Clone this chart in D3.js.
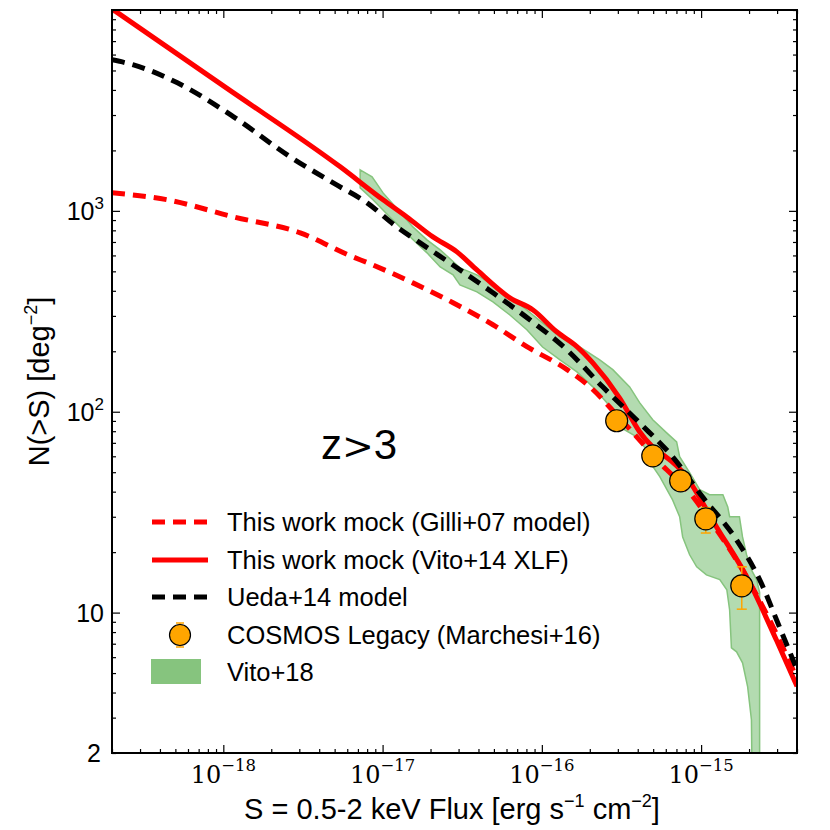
<!DOCTYPE html>
<html><head><meta charset="utf-8">
<script src="https://cdn.jsdelivr.net/npm/d3@7"></script>
<style>body{margin:0;background:#fff}</style>
</head><body>
<svg id="chart" width="830" height="830"></svg>
<script>
// ---------------- data ----------------
const gilliFlux = [2e-19, 4.46e-19, 1.16e-18, 3.04e-18, 6.08e-18, 8.7e-18, 1.55e-17, 2.77e-17, 4.93e-17, 8.05e-17, 1.44e-16, 2.09e-16, 2.95e-16, 3.94e-16, 5.5e-16, 8.5e-16, 1.13e-15, 1.74e-15, 2.69e-15, 4e-15];
const gilliN    = [1230, 1135, 933, 777, 604, 538, 438, 349, 271, 211, 162, 129, 96.5, 75, 55.7, 39.5, 29.0, 17.3, 9.2, 4.7];

const vitoXlfFlux = [2e-19, 1.044e-18, 5.42e-18, 1.007e-17, 1.42e-17, 2.07e-17, 2.93e-17, 3.91e-17, 6.3e-17, 8.8e-17, 1.24e-16, 1.66e-16, 2.09e-16, 3.08e-16, 4.11e-16, 8.1e-16, 1.25e-15, 1.93e-15, 2.97e-15, 4e-15];
const vitoXlfN    = [10130, 4093, 1656, 1135, 933, 742, 625, 508, 369, 321, 250, 211, 175, 117, 79.5, 47.4, 26.7, 15.1, 7.3, 4.3];

const uedaFlux = [2e-19, 2.73e-19, 5.15e-19, 1.16e-18, 2.63e-18, 4.9e-18, 8.0e-18, 1.23e-17, 1.72e-17, 2.93e-17, 4.93e-17, 8.4e-17, 1.44e-16, 2.41e-16, 4.11e-16, 6.62e-16, 1.02e-15, 1.67e-15, 2.33e-15, 3.1e-15, 4e-15];
const uedaN    = [5650, 5330, 4340, 2940, 1857, 1377, 1096, 832, 693, 521, 391, 287, 203, 133, 88, 59.7, 37.7, 23.0, 14.6, 8.5, 5.2];

const cosmosFlux = [2.95e-16, 4.97e-16, 7.44e-16, 1.07e-15, 1.80e-15];
const cosmosN    = [90.2, 60.3, 45.3, 29.3, 13.6];
const cosmosLo   = [84, 56, 42, 24.9, 10.4];
const cosmosHi   = [96, 65, 49, 33.3, 16.9];

const vitoUpS = [7.23e-18, 8.59e-18, 1.007e-17, 1.25e-17, 1.55e-17, 1.90e-17, 2.30e-17, 3.06e-17, 3.91e-17, 4.93e-17, 6.30e-17, 8.05e-17, 1.01e-16, 1.30e-16, 1.73e-16, 2.31e-16, 2.79e-16, 3.56e-16, 4.11e-16, 4.97e-16, 6.08e-16, 7.02e-16, 7.33e-16, 8.47e-16, 9.80e-16, 1.13e-15, 1.37e-15, 1.47e-15, 1.51e-15, 1.74e-15, 1.82e-15, 1.93e-15, 2.07e-15, 2.23e-15, 2.33e-15, 2.33e-15];
const vitoUpN = [1600, 1476, 1229, 1012, 832, 717, 640, 520, 480, 428, 373, 321, 277, 236, 210, 181, 162, 133, 111, 91.2, 78.5, 70.8, 59.7, 49.7, 40.9, 38.6, 38.6, 33.6, 30.0, 30.0, 23.8, 19.4, 16.3, 14.6, 12.6, 1];
const vitoLoS = [7.23e-18, 8.7e-18, 1.11e-17, 1.49e-17, 1.90e-17, 2.30e-17, 2.77e-17, 3.06e-17, 3.91e-17, 4.93e-17, 6.30e-17, 8.05e-17, 1.01e-16, 1.30e-16, 1.66e-16, 2.09e-16, 2.56e-16, 3.08e-16, 3.94e-16, 4.55e-16, 4.9e-16, 5.5e-16, 6.62e-16, 7.33e-16, 7.66e-16, 8.47e-16, 9.38e-16, 1.08e-15, 1.31e-15, 1.45e-15, 1.51e-15, 1.55e-15, 1.67e-15, 1.82e-15, 1.96e-15, 2.07e-15, 2.10e-15];
const vitoLoN = [1301, 1135, 933, 742, 618, 526, 480, 428, 395, 352, 303, 256, 210, 181, 158, 133, 111, 84.1, 75, 64.6, 54.4, 47.5, 36.4, 30.0, 23.8, 19.4, 16.9, 15.4, 14.6, 13.0, 10.3, 6.68, 6.38, 5.62, 4.27, 2.93, 1];

const xMajorTicks = [1e-18, 1e-17, 1e-16, 1e-15];
const xTickExp = ["−18", "−17", "−16", "−15"];
const yMajorTicks = [10, 100, 1000];
const yTickLabels = [["10", ""], ["10", "2"], ["10", "3"]];
const yExtraTick = 2;

const legendLabels = ["This work mock (Gilli+07 model)", "This work mock (Vito+14 XLF)", "Ueda+14 model", "COSMOS Legacy (Marchesi+16)", "Vito+18"];

// ---------------- chart ----------------
const svg = d3.select("#chart");
const L = 112, R = 797, T = 10, B = 753;
const x = d3.scaleLog().domain([2e-19, 4e-15]).range([L, R]);
const y = d3.scaleLog().domain([2, 1e4]).range([B, T]);
const RED = "#ff0000", ORANGE = "#ffa500";
const SANS = "'Liberation Sans', Arial, Helvetica, sans-serif";
const SERIF = "'DejaVu Serif', 'Liberation Serif', serif";

svg.append("defs").append("clipPath").attr("id", "clip")
  .append("rect").attr("x", L).attr("y", T).attr("width", R - L).attr("height", B - T);
const plot = svg.append("g").attr("clip-path", "url(#clip)");

// Vito+18 band
const bandPts = vitoUpS.map((s, i) => [x(s), y(vitoUpN[i])])
  .concat(vitoLoS.map((s, i) => [x(s), y(vitoLoN[i])]).reverse());
plot.append("path")
  .attr("d", d3.line().curve(d3.curveLinearClosed)(bandPts))
  .attr("fill", "#b3dbb0").attr("stroke", "#86c47e").attr("stroke-width", 1.5);

const line = d3.line().x(d => x(d[0])).y(d => y(d[1])).curve(d3.curveMonotoneX);
function drawLine(fx, fy, color, dash) {
  const p = plot.append("path")
    .attr("d", line(fx.map((f, i) => [f, fy[i]])))
    .attr("fill", "none").attr("stroke", color).attr("stroke-width", 5);
  if (dash) p.attr("stroke-dasharray", dash);
}
drawLine(gilliFlux, gilliN, RED, "13,8");
drawLine(vitoXlfFlux, vitoXlfN, RED, null);
drawLine(uedaFlux, uedaN, "#000", "13,8");

// COSMOS points
const pts = plot.append("g");
cosmosFlux.forEach((f, i) => {
  const cx = x(f);
  pts.append("line").attr("x1", cx).attr("x2", cx).attr("y1", y(cosmosLo[i])).attr("y2", y(cosmosHi[i]))
    .attr("stroke", ORANGE).attr("stroke-width", 1.5);
  [cosmosLo[i], cosmosHi[i]].forEach(v => {
    pts.append("line").attr("x1", cx - 5).attr("x2", cx + 5).attr("y1", y(v)).attr("y2", y(v))
      .attr("stroke", ORANGE).attr("stroke-width", 1.5);
  });
});
pts.selectAll("circle").data(cosmosFlux).join("circle")
  .attr("cx", d => x(d)).attr("cy", (d, i) => y(cosmosN[i])).attr("r", 11)
  .attr("fill", ORANGE).attr("stroke", "#000").attr("stroke-width", 1.2);

// ---------------- axes ----------------
const xMinor = x.ticks().filter(v => !xMajorTicks.some(m => Math.abs(m - v) / m < 1e-6));
const yMinor = y.ticks().filter(v => !yMajorTicks.some(m => Math.abs(m - v) / m < 1e-6));
function axisG(axis, tx, ty) {
  const g = svg.append("g").attr("transform", `translate(${tx},${ty})`).call(axis);
  g.select(".domain").remove();
  g.selectAll(".tick line").attr("stroke", "#000").attr("stroke-width", 1.2);
  g.selectAll(".tick text").remove();
  return g;
}
axisG(d3.axisBottom(x).tickValues(xMajorTicks).tickSize(-8).tickFormat(""), 0, B);
axisG(d3.axisBottom(x).tickValues(xMinor).tickSize(-4).tickFormat(""), 0, B);
axisG(d3.axisTop(x).tickValues(xMajorTicks).tickSize(-8).tickFormat(""), 0, T);
axisG(d3.axisTop(x).tickValues(xMinor).tickSize(-4).tickFormat(""), 0, T);
axisG(d3.axisLeft(y).tickValues(yMajorTicks).tickSize(-8).tickFormat(""), L, 0);
axisG(d3.axisLeft(y).tickValues(yMinor).tickSize(-4).tickFormat(""), L, 0);
axisG(d3.axisRight(y).tickValues(yMajorTicks).tickSize(-8).tickFormat(""), R, 0);
axisG(d3.axisRight(y).tickValues(yMinor).tickSize(-4).tickFormat(""), R, 0);

svg.append("rect").attr("x", L).attr("y", T).attr("width", R - L).attr("height", B - T)
  .attr("fill", "none").attr("stroke", "#000").attr("stroke-width", 2);

// x tick labels
xMajorTicks.forEach((v, i) => {
  const t = svg.append("text").attr("x", x(v)).attr("y", 783).attr("text-anchor", "middle")
    .attr("font-family", SERIF).attr("font-size", 24);
  t.append("tspan").text("10");
  t.append("tspan").attr("dy", -12).attr("font-size", 16.5).text(xTickExp[i]);
});
// y tick labels
yMajorTicks.forEach((v, i) => {
  const t = svg.append("text").attr("x", 104).attr("y", y(v) + 9).attr("text-anchor", "end")
    .attr("font-family", SANS).attr("font-size", 25);
  t.append("tspan").text(yTickLabels[i][0]);
  if (yTickLabels[i][1]) t.append("tspan").attr("dy", -11).attr("font-size", 17).text(yTickLabels[i][1]);
});
svg.append("text").attr("x", 101).attr("y", y(yExtraTick) + 9).attr("text-anchor", "end")
  .attr("font-family", SANS).attr("font-size", 25).text(String(yExtraTick));

// axis titles
const xl = svg.append("text").attr("x", 452).attr("y", 819).attr("text-anchor", "middle")
  .attr("font-family", SANS).attr("font-size", 29);
xl.append("tspan").text("S = 0.5-2 keV Flux [erg s");
xl.append("tspan").attr("dy", -12).attr("font-size", 18).text("−1");
xl.append("tspan").attr("dy", 12).text(" cm");
xl.append("tspan").attr("dy", -12).attr("font-size", 18).text("−2");
xl.append("tspan").attr("dy", 12).text("]");

const yl = svg.append("text").attr("transform", `translate(49,${(T + B) / 2}) rotate(-90)`)
  .attr("text-anchor", "middle").attr("font-family", SANS).attr("font-size", 29);
yl.append("tspan").text("N(>S) [deg");
yl.append("tspan").attr("dy", -12).attr("font-size", 18).text("−2");
yl.append("tspan").attr("dy", 12).text("]");

// z>3 annotation
const zt = svg.append("text").attr("x", 321).attr("y", 459).attr("font-family", SANS).attr("font-size", 42);
zt.append("tspan").text("z");
zt.append("tspan").attr("font-family", SERIF).attr("font-size", 38).text(">");
zt.append("tspan").text("3");

// ---------------- legend ----------------
const lg = svg.append("g");
const rowY = [522, 560, 597, 635, 672];
const hx0 = 152, hx1 = 208;
lg.append("line").attr("x1", hx0).attr("x2", hx1).attr("y1", rowY[0]).attr("y2", rowY[0])
  .attr("stroke", RED).attr("stroke-width", 5).attr("stroke-dasharray", "13,8");
lg.append("line").attr("x1", hx0).attr("x2", hx1).attr("y1", rowY[1]).attr("y2", rowY[1])
  .attr("stroke", RED).attr("stroke-width", 5);
lg.append("line").attr("x1", hx0).attr("x2", hx1).attr("y1", rowY[2]).attr("y2", rowY[2])
  .attr("stroke", "#000").attr("stroke-width", 5).attr("stroke-dasharray", "13,8");
const lcx = (hx0 + hx1) / 2;
lg.append("line").attr("x1", lcx).attr("x2", lcx).attr("y1", rowY[3] - 12).attr("y2", rowY[3] + 12)
  .attr("stroke", ORANGE).attr("stroke-width", 1.5);
[rowY[3] - 12, rowY[3] + 12].forEach(v => lg.append("line").attr("x1", lcx - 4).attr("x2", lcx + 4)
  .attr("y1", v).attr("y2", v).attr("stroke", ORANGE).attr("stroke-width", 1.5));
lg.append("circle").attr("cx", lcx).attr("cy", rowY[3]).attr("r", 10.5)
  .attr("fill", ORANGE).attr("stroke", "#000").attr("stroke-width", 1.2);
lg.append("rect").attr("x", 151).attr("y", rowY[4] - 13).attr("width", 50).attr("height", 25)
  .attr("fill", "#86c47e");
legendLabels.forEach((s, i) => {
  lg.append("text").attr("x", 227).attr("y", rowY[i] + 9).attr("font-family", SANS)
    .attr("font-size", 25.5).attr("fill", "#000").text(s);
});
</script>
</body></html>
